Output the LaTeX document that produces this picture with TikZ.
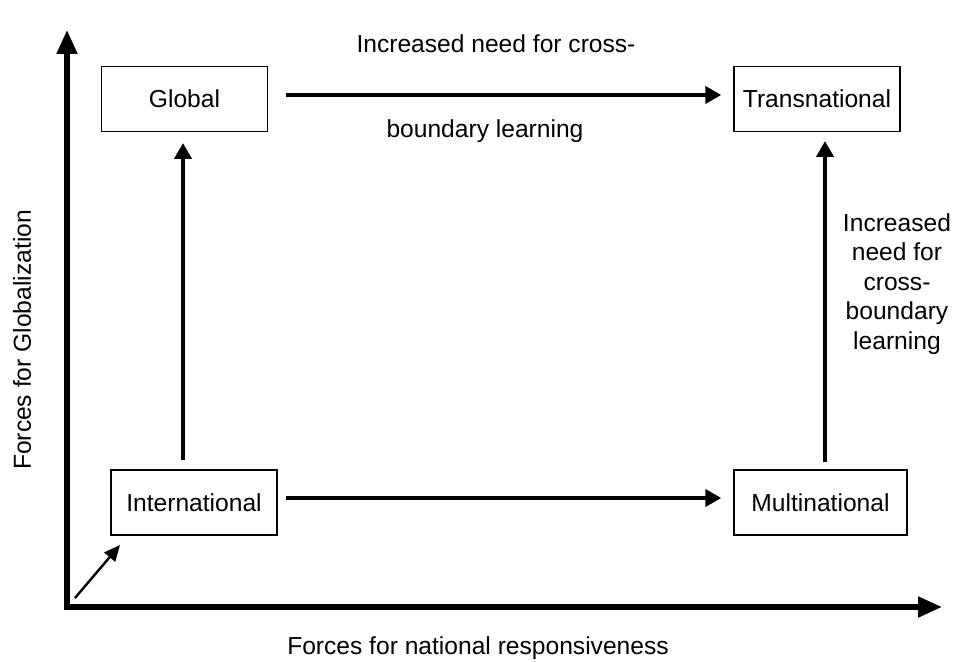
\documentclass[tikz,border=0pt]{standalone}
\usepackage{fontspec}
\setmainfont{Liberation Sans}
\usetikzlibrary{arrows.meta,positioning}

\begin{document}
\begin{tikzpicture}[x=0.5pt,y=-0.5pt,
  every node/.style={font=\fontsize{12.3}{14.8}\selectfont},
  stage/.style={draw, line width=0.7pt, minimum width=83pt, minimum height=32.5pt, inner sep=0pt},
  axis/.style={line width=2.6pt, -{Triangle[length=12pt,width=10pt]}},
  move/.style={line width=2pt, -{Triangle[length=8pt,width=8.5pt]}}
]
\useasboundingbox (0,0) rectangle (976,662);

% Axes
\coordinate (origin) at (67,607);
\coordinate (ytip) at (67,30);
\coordinate (xtip) at (942,607);
\draw[axis, line cap=rect] (origin) -- (ytip);
\draw[axis, line cap=rect] (origin) -- (xtip);
\node[rotate=90] (ylab) at (22,340) {Forces for Globalization};
\node (xlab) at (478,648) {Forces for national responsiveness};

% The four stages
\node[stage] (glob) at (184.5,99) {Global};
\node[stage] (trans) at (817,99) {Transnational};
\node[stage] (inter) at (194,502.5) {International};
\node[stage, minimum width=86.5pt] (multi) at (820.5,502.5) {Multinational};

% Start
\coordinate (start) at (75,598);
\draw[line width=1.2pt, -{Triangle[length=8pt,width=7pt]}] (start) -- (120,545);

% Moves between stages
\draw[move, shorten <=9pt, shorten >=6pt] (glob.east |- 0,95) -- (trans.west |- 0,95);
\draw[move, shorten <=4pt, shorten >=6pt] (inter.east |- 0,498) -- (multi.west |- 0,498);
\draw[move, shorten <=5pt, shorten >=6pt] (183,470) -- (183,131);
\draw[move, shorten <=4pt, shorten >=5pt] (825,470) -- (825,131);

% Labels
\node (toplab1) at (496,44) {Increased need for cross-};
\node (toplab2) at (485,131) {boundary learning};
\node[align=center] (sidelab) at (897,284) {Increased\\need for\\cross-\\boundary\\learning};

\end{tikzpicture}
\end{document}
